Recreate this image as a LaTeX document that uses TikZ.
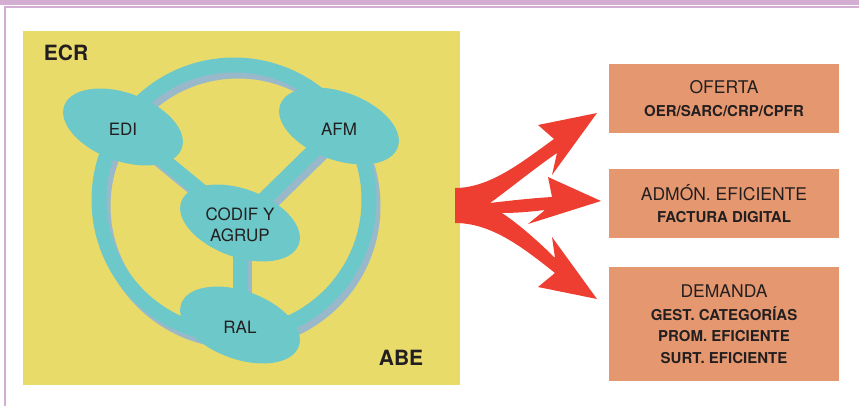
\documentclass[tikz,border=0pt]{standalone}
\usepackage{fontspec}
\setmainfont{TeX Gyre Heros}
\usetikzlibrary{shapes.geometric}

\definecolor{framepink}{HTML}{D3AED2}
\definecolor{ecryellow}{HTML}{E9DB6A}
\definecolor{hubteal}{HTML}{6DC8C9}
\definecolor{hubshadow}{HTML}{99B9CB}
\definecolor{arrowred}{HTML}{EE3D31}
\definecolor{boxsalmon}{HTML}{E5976F}
\definecolor{inkdark}{HTML}{231F20}

\newcommand{\boxhead}[1]{{\fontsize{17.5}{21.5}\selectfont #1}}
\newcommand{\boxsub}[1]{{\bfseries #1}}

\tikzset{
    hub/.style={ellipse, fill=hubteal, minimum width=125pt, minimum height=68pt, inner sep=0pt, rotate=-20},
    hubtext/.style={text=inkdark, font=\fontsize{17}{21}\selectfont, align=center},
    band/.style={draw=hubteal, line width=15pt},
    bandshadow/.style={draw=hubshadow, line width=15pt},
    infobox/.style={fill=boxsalmon, minimum width=230pt, inner sep=0pt, text=inkdark, align=center,
        font=\fontsize{15}{21.5}\selectfont},
    tag/.style={font=\bfseries\fontsize{21}{21}\selectfont, text=inkdark}
}

\begin{document}
\begin{tikzpicture}[x=1pt, y=-1pt]
    \useasboundingbox (0,0) rectangle (859,406);

    % page frame
    \fill[framepink] (0,0) rectangle (859,5);
    \fill[framepink] (4,6.5) rectangle (859,8.5);
    \fill[framepink] (4,6.5) rectangle (6,406);

    % ECR panel
    \fill[ecryellow] (23,31) rectangle (460,385);
    \node[tag] (ecr) at (66,53) {ECR};
    \node[tag] (abe) at (401,358) {ABE};

    % centres of the four hubs
    \coordinate (p-edi) at (123,127);
    \coordinate (p-afm) at (339,126);
    \coordinate (p-codif) at (240,223);
    \coordinate (p-ral) at (240,325);
    \coordinate (p-ring) at (234,200);

    % shadow under the ring and the spokes
    \draw[bandshadow] ([shift={(4,6)}]p-ring) circle[radius=135];
    \foreach \a/\b in {edi/codif, afm/codif, codif/ral} {
        \draw[bandshadow] ([shift={(4,6)}]p-\a) -- ([shift={(4,6)}]p-\b);
    }

    % ring and spokes
    \draw[band] (p-ring) circle[radius=135];
    \foreach \a/\b in {edi/codif, afm/codif, codif/ral} {
        \draw[band] (p-\a) -- (p-\b);
    }

    % hubs
    \node[hub] (edi) at (p-edi) {};
    \node[hub] (afm) at (p-afm) {};
    \node[hub] (codif) at (p-codif) {};
    \node[hub] (ral) at (p-ral) {};
    \node[hubtext] (edi-txt) at (123,129) {EDI};
    \node[hubtext] (afm-txt) at (339,129) {AFM};
    \node[hubtext] (codif-txt) at (240,225) {CODIF Y\\AGRUP};
    \node[hubtext] (ral-txt) at (240,327) {RAL};

    % three-headed red arrow
    \fill[arrowred] (455,188)
        .. controls (490,188) and (522,162) .. (554,139)
        -- (538,125) -- (597,113) -- (552,175) -- (557,153)
        .. controls (535,168) and (512,187) .. (490,203)
        .. controls (515,200) and (535,198) .. (552,197)
        -- (548,177) -- (601,201) -- (528,224) -- (545,210)
        .. controls (528,212) and (515,213) .. (502,213)
        .. controls (520,225) and (540,243) .. (555,258)
        -- (552,237) -- (597,299) -- (538,287) -- (555,273)
        .. controls (520,245) and (490,223) .. (455,223) -- cycle;

    % result boxes
    \node[infobox, minimum height=69pt] (oferta) at (724,98.5)
        {\boxhead{OFERTA}\\[1pt] \boxsub{OER/SARC/CRP/CPFR}};
    \node[infobox, minimum height=69pt] (admon) at (724,203.5)
        {\boxhead{ADMÓN. EFICIENTE}\\[1pt] \boxsub{FACTURA DIGITAL}};
    \node[infobox, minimum height=114pt] (demanda) at (724,324)
        {\boxhead{DEMANDA}\\[1pt] \boxsub{GEST. CATEGORÍAS}\\
         \boxsub{PROM. EFICIENTE}\\ \boxsub{SURT. EFICIENTE}};

\end{tikzpicture}
\end{document}
